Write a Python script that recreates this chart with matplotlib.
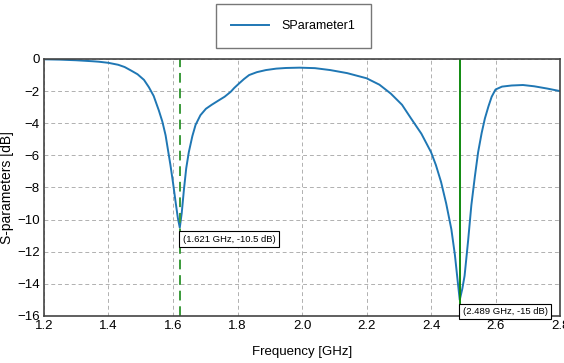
import matplotlib.pyplot as plt
import numpy as np

freq = [1.20, 1.25, 1.30, 1.35, 1.37, 1.40, 1.43, 1.45, 1.47, 1.49, 1.51, 1.525, 1.54, 1.556,
        1.567, 1.577, 1.592, 1.60, 1.608, 1.615, 1.621, 1.627, 1.634, 1.641, 1.649, 1.66,
        1.67, 1.685, 1.702, 1.72, 1.743, 1.76, 1.779, 1.79, 1.805, 1.82, 1.836, 1.86,
        1.888, 1.92, 1.95, 1.992, 2.04, 2.0875, 2.14, 2.20, 2.24, 2.275, 2.31, 2.338,
        2.37, 2.40, 2.415, 2.431, 2.447, 2.463, 2.474, 2.483, 2.489, 2.497, 2.504, 2.515,
        2.525, 2.536, 2.546, 2.557, 2.567, 2.578, 2.588, 2.60, 2.62, 2.65, 2.685, 2.72,
        2.76, 2.80]
s11 = [-0.02, -0.04, -0.08, -0.14, -0.17, -0.24, -0.36, -0.50, -0.72, -0.95, -1.30, -1.75, -2.30, -3.20,
       -3.90, -4.75, -6.60, -7.70, -8.90, -9.90, -10.5, -9.60, -8.10, -6.80, -5.80, -4.80,
       -4.10, -3.50, -3.10, -2.85, -2.56, -2.35, -2.04, -1.80, -1.52, -1.25, -1.00, -0.82,
       -0.69, -0.60, -0.56, -0.54, -0.57, -0.69, -0.88, -1.20, -1.60, -2.15, -2.85, -3.70,
       -4.65, -5.80, -6.60, -7.65, -9.00, -10.6, -12.2, -13.9, -15.0, -14.3, -13.5, -11.3,
       -9.10, -7.30, -5.80, -4.60, -3.70, -2.95, -2.35, -1.90, -1.72, -1.65, -1.62, -1.70,
       -1.84, -2.00]

markers = [(1.621, -10.5, '(1.621 GHz, -10.5 dB)', '--', '#3a9a3a'),
           (2.489, -15.0, '(2.489 GHz, -15 dB)', '-', '#108a10')]

plt.rcParams['font.family'] = ['Liberation Sans', 'DejaVu Sans']
fig = plt.figure(figsize=(5.64, 3.63), dpi=100)
ax = fig.add_axes([0.078, 0.1295, 0.915, 0.708])

ax.plot(freq, s11, color='#1f77b4', lw=1.4, label='SParameter1')
for x, y, txt, ls, col in markers:
    if ls == '--':
        ax.axvline(x, color=col, lw=1.4, dashes=(5, 3))
    else:
        ax.axvline(x, color=col, lw=1.4)
    ax.annotate(txt, xy=(x, y), xytext=(2, -5), textcoords='offset points',
                ha='left', va='top', fontsize=6.8,
                bbox=dict(boxstyle='square,pad=0.35', fc='white', ec='black', lw=0.8))

ax.set_xlim(1.2, 2.8)
ax.set_ylim(-16, 0)
ax.set_xticks(np.arange(1.2, 2.81, 0.2))
ax.set_yticks(np.arange(-16, 1, 2))
ax.xaxis.set_major_formatter(plt.FuncFormatter(lambda v, p: f'{v:.1f}'))
ax.grid(True, ls=(0, (4, 3)), color='#b0b0b0', lw=0.7)
ax.tick_params(labelsize=9.5, length=0, pad=3)
for s in ax.spines.values():
    s.set_color('#444444')
    s.set_linewidth(1.2)
ax.set_xlabel('Frequency [GHz]', fontsize=9.5, labelpad=10)
ax.set_ylabel('S-parameters [dB]', fontsize=10, labelpad=2)

leg = ax.legend(loc='lower center', bbox_to_anchor=(0.483, 1.02), fontsize=9,
                fancybox=False, edgecolor='#555555', borderpad=1.25, handlelength=3.0,
                handletextpad=1.0)
leg.get_frame().set_linewidth(1.0)

fig.savefig('out.png', dpi=100)
